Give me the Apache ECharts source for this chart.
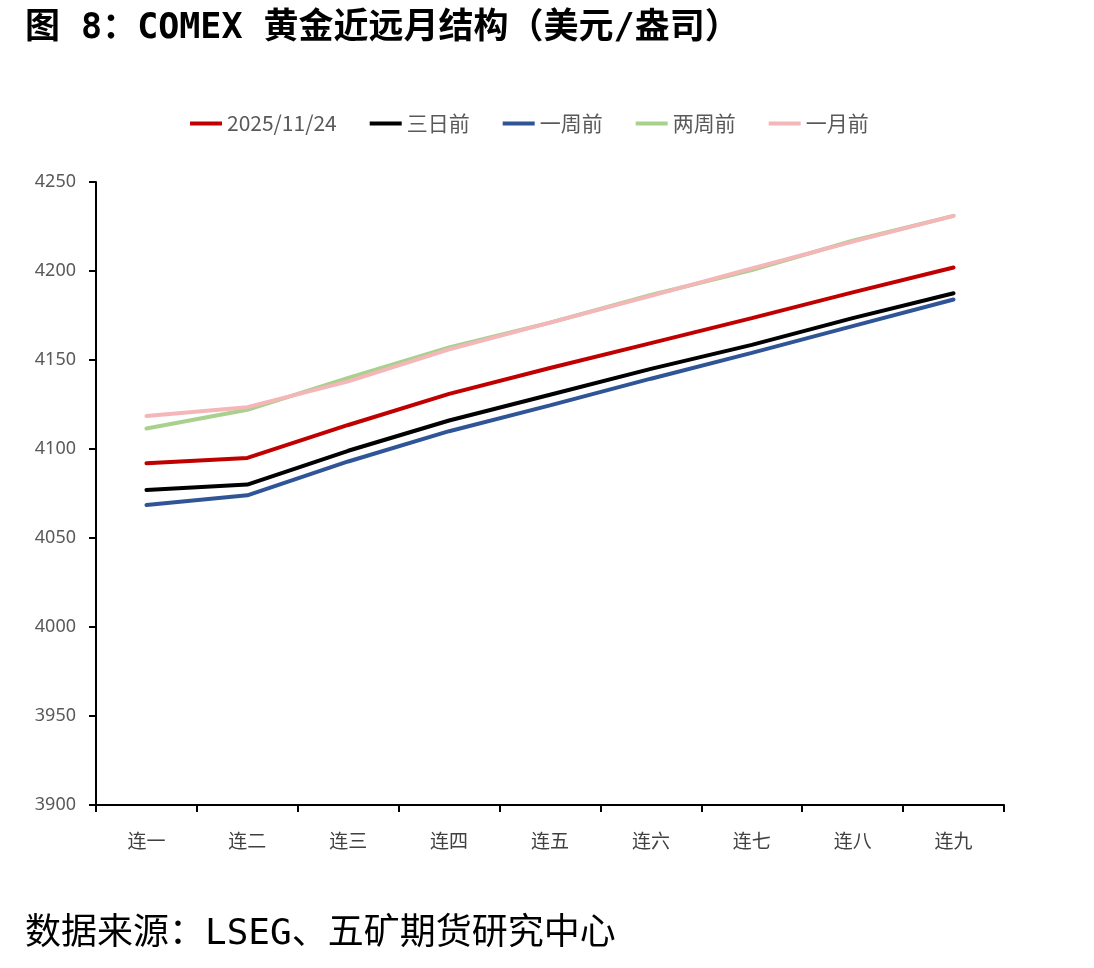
<!DOCTYPE html>
<html>
<head>
<meta charset="utf-8">
<script src="https://cdn.jsdelivr.net/npm/echarts@6/dist/echarts.min.js"></script>
<style>
html,body{margin:0;padding:0;background:#fff;}
#c{width:1094px;height:968px;}
</style>
</head>
<body>
<div id="c"></div>
<script>
const categories = ['连一','连二','连三','连四','连五','连六','连七','连八','连九'];
const seriesNames = ['2025/11/24','三日前','一周前','两周前','一月前'];
const today      = [4092, 4095, 4113.5, 4131, 4145.5, 4159.5, 4173.5, 4188, 4202];
const threeDays  = [4077, 4080, 4099, 4116, 4130.5, 4145, 4158.5, 4173.5, 4187.5];
const oneWeek    = [4068.5, 4074, 4093, 4110, 4124.5, 4139.5, 4154, 4169, 4184];
const twoWeeks   = [4111.5, 4122, 4140, 4157, 4171, 4186.5, 4200.5, 4217, 4231];
const oneMonth   = [4118.5, 4123.5, 4138, 4156, 4171, 4186, 4201.5, 4216.5, 4231];
const yTicks = {min: 3900, max: 4250, interval: 50};
const colors = ['#C00000', '#000000', '#2F5597', '#A9D18E', '#F4B6B8'];
const values = [today, threeDays, oneWeek, twoWeeks, oneMonth];

const chart = echarts.init(document.getElementById('c'));
chart.setOption({
  animation: false,
  backgroundColor: '#fff',
  title: [{
    text: '图 8：COMEX 黄金近远月结构（美元/盎司）',
    left: 20, top: 6,
    textStyle: {fontFamily: '"DejaVu Sans Mono", "Noto Sans CJK SC"', fontWeight: 'bold', fontSize: 35, color: '#000'}
  }, {
    text: '数据来源：LSEG、五矿期货研究中心',
    left: 20, top: 912,
    textStyle: {fontFamily: '"DejaVu Sans Mono", "Noto Sans CJK SC"', fontWeight: 'normal', fontSize: 36, color: '#000'}
  }],
  legend: {
    top: 108, left: 185,
    itemWidth: 32, itemHeight: 4, itemGap: 33,
    icon: 'rect',
    textStyle: {fontFamily: 'Noto Sans CJK SC', fontSize: 21, color: '#595959'},
    data: seriesNames
  },
  grid: {left: 96, right: 90, top: 182, bottom: 163, containLabel: false},
  xAxis: {
    type: 'category',
    data: categories,
    boundaryGap: true,
    axisLine: {lineStyle: {color: '#000', width: 2}},
    axisTick: {show: true, alignWithLabel: false, length: 7, lineStyle: {color: '#000', width: 2}},
    axisLabel: {margin: 26, fontFamily: 'Noto Sans CJK SC', fontSize: 19, color: '#404040'},
    splitLine: {show: false}
  },
  yAxis: {
    type: 'value',
    min: yTicks.min, max: yTicks.max, interval: yTicks.interval,
    axisLine: {show: true, lineStyle: {color: '#000', width: 2}},
    axisTick: {show: true, length: 7, lineStyle: {color: '#000', width: 2}},
    axisLabel: {margin: 20, fontFamily: 'Noto Sans', fontSize: 18, color: '#595959', formatter: v => String(v)},
    splitLine: {show: false}
  },
  series: seriesNames.map((n, i) => ({
    name: n, type: 'line', data: values[i],
    symbol: 'none', smooth: false,
    lineStyle: {color: colors[i], width: 4, cap: 'round'},
    itemStyle: {color: colors[i]}
  }))
});
</script>
</body>
</html>
